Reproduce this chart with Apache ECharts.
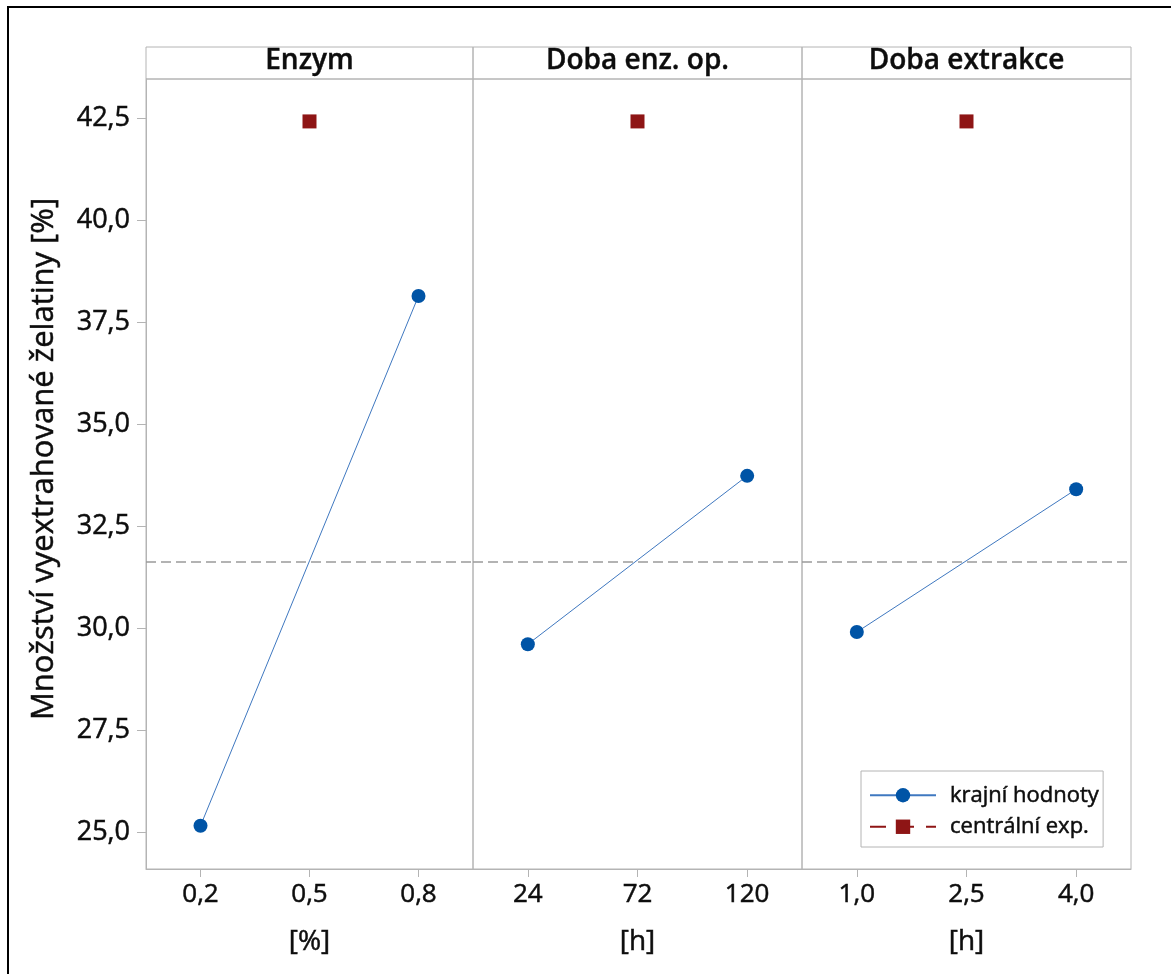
<!DOCTYPE html>
<html>
<head>
<meta charset="utf-8">
<script src="https://cdn.jsdelivr.net/npm/echarts@6/dist/echarts.min.js"></script>
<style>
html,body{margin:0;padding:0;background:#fff;}
#chart{width:1171px;height:974px;}
</style>
</head>
<body>
<div id="chart"></div>
<script>
// ---- data ----
const panelTitles = ['Enzym', 'Doba enz. op.', 'Doba extrakce'];
const unitLabels = ['[%]', '[h]', '[h]'];
const enzymeLevels = ['0,2', '0,5', '0,8'];
const timeEnzLevels = ['24', '72', '120'];
const timeExtLevels = ['1,0', '2,5', '4,0'];
const extremeEnzyme = [25.15, null, 38.14];
const extremeTimeEnz = [29.60, null, 33.73];
const extremeTimeExt = [29.90, null, 33.40];
const centralEnzyme = [null, 42.42, null];
const centralTimeEnz = [null, 42.42, null];
const centralTimeExt = [null, 42.42, null];
const grandMean = 31.63;
const yTicks = [25.0, 27.5, 30.0, 32.5, 35.0, 37.5, 40.0, 42.5];
const yTitle = 'Množství vyextrahované želatiny [%]';
const seriesNames = ['krajní hodnoty', 'centrální exp.'];

// ---- layout ----
const FONT = 'Open Sans';
const ink = '#0d0d0d';
const heavy = {textBorderColor: ink, textBorderWidth: 0.5};
const levels = [enzymeLevels, timeEnzLevels, timeExtLevels];
const extremes = [extremeEnzyme, extremeTimeEnz, extremeTimeExt];
const centrals = [centralEnzyme, centralTimeEnz, centralTimeExt];
const panelLeft = [146, 473, 802];
const panelWidth = [327, 329, 329];
const plotTop = 79, plotHeight = 790, headerTop = 47;
const yMin = 24.09, yMax = 43.46;
const gray = '#B4B4B4';

const grids = [], xAxes = [], yAxes = [], series = [], graphics = [];
for (let i = 0; i < 3; i++) {
  grids.push({left: panelLeft[i], top: plotTop, width: panelWidth[i], height: plotHeight,
    show: true, borderColor: gray, borderWidth: 1, backgroundColor: 'transparent'});
  xAxes.push({
    type: 'category', gridIndex: i, data: levels[i], boundaryGap: true,
    axisLine: {show: true, lineStyle: {color: gray}},
    axisTick: {show: true, alignWithLabel: true, length: 8, lineStyle: {color: gray}},
    axisLabel: Object.assign({fontFamily: FONT, fontSize: 26, color: ink, margin: 13}, heavy),
    splitLine: {show: false},
    name: unitLabels[i], nameLocation: 'middle', nameGap: 59,
    nameTextStyle: Object.assign({fontFamily: FONT, fontSize: 28, color: ink}, heavy)
  });
  yAxes.push({
    type: 'value', gridIndex: i, min: yMin, max: yMax,
    axisLine: {show: i === 0, lineStyle: {color: gray}},
    axisTick: {show: i === 0, length: 9, customValues: yTicks, lineStyle: {color: gray}},
    axisLabel: Object.assign({show: i === 0, customValues: yTicks, fontFamily: FONT, fontSize: 27, color: ink, margin: 16,
      formatter: v => v.toFixed(1).replace('.', ',')}, heavy),
    splitLine: {show: false}
  });
  series.push({
    type: 'line', name: seriesNames[0], xAxisIndex: i, yAxisIndex: i,
    data: extremes[i], connectNulls: true,
    symbol: 'circle', symbolSize: 14,
    itemStyle: {color: '#0054A6'},
    lineStyle: {color: '#3F78C0', width: 1},
    z: 3,
    markLine: {silent: true, symbol: 'none', label: {show: false},
      lineStyle: {color: '#9A9A9A', type: [10, 5], width: 1.5},
      data: [{yAxis: grandMean}]}
  });
  series.push({
    type: 'line', name: seriesNames[1], xAxisIndex: i, yAxisIndex: i,
    data: centrals[i], connectNulls: false,
    symbol: 'rect', symbolSize: 14,
    itemStyle: {color: '#8E1515'},
    lineStyle: {color: '#8E1515', width: 1.5, type: [16, 12]},
    z: 4
  });
  graphics.push({type: 'rect', shape: {x: panelLeft[i], y: headerTop, width: panelWidth[i], height: plotTop - headerTop},
    style: {fill: 'none', stroke: gray, lineWidth: 1}, silent: true});
  graphics.push({type: 'text', x: panelLeft[i] + panelWidth[i] / 2, y: 61,
    style: {text: panelTitles[i], font: '600 28px "' + FONT + '"', fill: ink, stroke: ink, lineWidth: 0.4,
      textAlign: 'center', textVerticalAlign: 'middle'}});
}
graphics.push({type: 'text', x: 44, y: 459, rotation: Math.PI / 2,
  style: {text: yTitle, font: '31px "' + FONT + '"', fill: ink, stroke: ink, lineWidth: 0.5,
    textAlign: 'center', textVerticalAlign: 'middle'}});
graphics.push({type: 'rect', shape: {x: 8, y: 7, width: 1300, height: 1100},
  style: {fill: 'none', stroke: '#000', lineWidth: 2}, silent: true});

const chart = echarts.init(document.getElementById('chart'), null, {renderer: 'canvas'});
chart.setOption({
  animation: false,
  backgroundColor: '#fff',
  grid: grids, xAxis: xAxes, yAxis: yAxes, series: series,
  legend: {
    data: seriesNames, orient: 'vertical', left: 861, top: 771,
    borderColor: gray, borderWidth: 1, padding: [13, 4, 9, 8],
    itemWidth: 66, itemHeight: 18, itemGap: 9,
    textStyle: Object.assign({fontFamily: FONT, fontSize: 22, color: ink, padding: [0, 0, 0, 9]}, heavy)
  },
  graphic: graphics
});
</script>
</body>
</html>
